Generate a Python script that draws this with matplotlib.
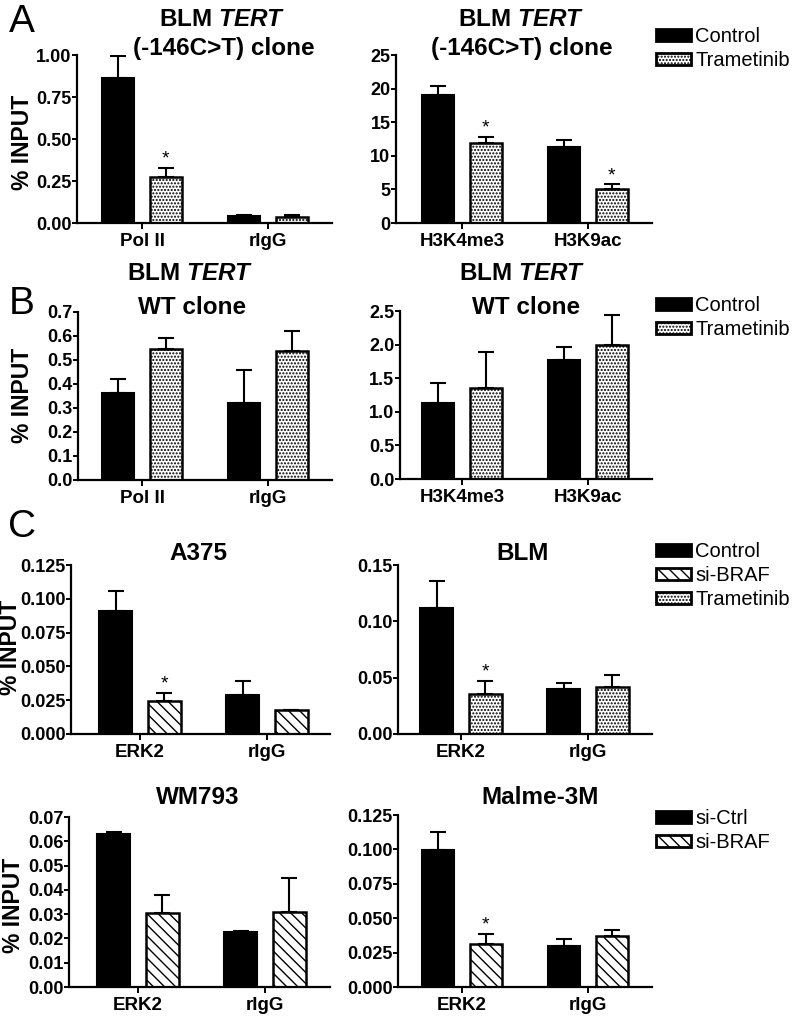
import numpy as np
import matplotlib
matplotlib.use("Agg")
import matplotlib.pyplot as plt
from matplotlib.patches import Patch
from matplotlib.ticker import FormatStrFormatter, MultipleLocator

plt.rcParams['font.family'] = ['Liberation Sans', 'DejaVu Sans']
plt.rcParams['mathtext.fontset'] = 'custom'
plt.rcParams['mathtext.it'] = 'Liberation Sans:italic:bold'
plt.rcParams['mathtext.rm'] = 'Liberation Sans:bold'
plt.rcParams['hatch.linewidth'] = 1.0

W, H = 796, 1017

# ---- data (mean, upper error) ----
cat_A_left = ["Pol II", "rIgG"]
cat_A_right = ["H3K4me3", "H3K9ac"]
cat_C = ["ERK2", "rIgG"]

a_left_ctrl = [0.865, 0.042]
a_left_ctrl_err = [0.13, 0.004]
a_left_tram = [0.276, 0.038]
a_left_tram_err = [0.053, 0.010]

a_right_ctrl = [19.0, 11.35]
a_right_ctrl_err = [1.4, 1.05]
a_right_tram = [11.9, 5.05]
a_right_tram_err = [0.95, 0.75]

b_left_ctrl = [0.361, 0.319]
b_left_ctrl_err = [0.059, 0.138]
b_left_tram = [0.546, 0.539]
b_left_tram_err = [0.044, 0.080]

b_right_ctrl = [1.13, 1.766]
b_right_ctrl_err = [0.30, 0.194]
b_right_tram = [1.35, 2.0]
b_right_tram_err = [0.54, 0.44]

a375_ctrl = [0.091, 0.0289]
a375_ctrl_err = [0.015, 0.0106]
a375_sibraf = [0.0244, 0.0175]
a375_sibraf_err = [0.0062, 0.0]

blm_ctrl = [0.112, 0.040]
blm_ctrl_err = [0.024, 0.0056]
blm_tram = [0.0352, 0.042]
blm_tram_err = [0.0121, 0.0104]

wm793_sictrl = [0.0631, 0.0225]
wm793_sictrl_err = [0.0007, 0.0004]
wm793_sibraf = [0.0306, 0.031]
wm793_sibraf_err = [0.0071, 0.0137]

malme_sictrl = [0.0997, 0.0298]
malme_sictrl_err = [0.0133, 0.0054]
malme_sibraf = [0.0315, 0.0374]
malme_sibraf_err = [0.0072, 0.0037]

DOTS = '.....'
DIAG = '\\\\\\'
TICK_FS = 13

fig = plt.figure(figsize=(W / 100, H / 100), dpi=100)


def px_axes(x0, x1, top, bottom):
    return fig.add_axes([x0 / W, 1 - bottom / H, (x1 - x0) / W, (bottom - top) / H])


def panel(rect, xlim, cats, s1, e1, s2, e2, hatch2, ylim, step, fmt, stars=()):
    ax = px_axes(*rect)
    x = np.arange(len(cats))
    bw, off = 0.26, 0.19
    ax.bar(x - off, s1, bw, color='black', edgecolor='black', linewidth=1.5,
           yerr=[np.zeros(len(s1)), e1], capsize=6,
           error_kw=dict(elinewidth=1.5, capthick=1.5, ecolor='black'), zorder=2)
    ax.bar(x + off, s2, bw, color='white', edgecolor='black', linewidth=1.8, hatch=hatch2,
           yerr=[np.zeros(len(s2)), e2], capsize=6,
           error_kw=dict(elinewidth=1.5, capthick=1.5, ecolor='black'), zorder=2)
    for i in stars:
        ax.annotate('*', (x[i] + off, s2[i] + e2[i]), xytext=(0, 0), textcoords='offset points',
                    ha='center', va='bottom', fontsize=14)
    ax.set_xlim(*xlim)
    ax.set_ylim(0, ylim)
    ax.yaxis.set_major_locator(MultipleLocator(step))
    ax.yaxis.set_major_formatter(FormatStrFormatter(fmt))
    ax.set_xticks(x)
    ax.set_xticklabels(cats, fontweight='bold', fontsize=TICK_FS + 0.5)
    for lab in ax.get_yticklabels():
        lab.set_fontweight('bold')
        lab.set_fontsize(TICK_FS)
    ax.spines['top'].set_visible(False)
    ax.spines['right'].set_visible(False)
    ax.spines['left'].set_linewidth(1.6)
    ax.spines['bottom'].set_linewidth(1.6)
    ax.tick_params(axis='y', length=3.5, width=1.4, pad=0.5)
    ax.tick_params(axis='x', length=4, width=1.4, pad=3)
    return ax


# row A
panel((77, 332, 55, 223), (-0.516, 1.508), cat_A_left, a_left_ctrl, a_left_ctrl_err,
      a_left_tram, a_left_tram_err, DOTS, 1.0, 0.25, '%.2f', stars=[0])
panel((396, 652, 55, 223), (-0.524, 1.508), cat_A_right, a_right_ctrl, a_right_ctrl_err,
      a_right_tram, a_right_tram_err, DOTS, 25, 5, '%d', stars=[0, 1])
# row B
panel((78, 332, 312, 480), (-0.508, 1.508), cat_A_left, b_left_ctrl, b_left_ctrl_err,
      b_left_tram, b_left_tram_err, DOTS, 0.7, 0.1, '%.1f')
panel((400, 652, 311, 479), (-0.492, 1.508), cat_A_right, b_right_ctrl, b_right_ctrl_err,
      b_right_tram, b_right_tram_err, DOTS, 2.5, 0.5, '%.1f')
# row C
panel((71, 330, 565, 734), (-0.543, 1.496), cat_C, a375_ctrl, a375_ctrl_err,
      a375_sibraf, a375_sibraf_err, DIAG, 0.125, 0.025, '%.3f', stars=[0])
panel((398, 652, 565, 734), (-0.496, 1.504), cat_C, blm_ctrl, blm_ctrl_err,
      blm_tram, blm_tram_err, DOTS, 0.15, 0.05, '%.2f', stars=[0])
# row D
panel((69, 330, 817, 987), (-0.543, 1.512), cat_C, wm793_sictrl, wm793_sictrl_err,
      wm793_sibraf, wm793_sibraf_err, DIAG, 0.07, 0.01, '%.2f')
panel((398, 652, 815, 987), (-0.508, 1.508), cat_C, malme_sictrl, malme_sictrl_err,
      malme_sibraf, malme_sibraf_err, DIAG, 0.125, 0.025, '%.3f', stars=[0])


def ftext(x, y, s, **kw):
    fig.text(x / W, 1 - y / H, s, ha='center', va='center', **kw)


tfs = 17.5
# titles
ftext(222, 19, r'BLM $\mathit{TERT}$', fontsize=tfs, fontweight='bold')
ftext(224, 48, '(-146C>T) clone', fontsize=tfs, fontweight='bold')
ftext(521, 19, r'BLM $\mathit{TERT}$', fontsize=tfs, fontweight='bold')
ftext(522, 48, '(-146C>T) clone', fontsize=tfs, fontweight='bold')
ftext(190, 273, r'BLM $\mathit{TERT}$', fontsize=tfs, fontweight='bold')
ftext(192, 307, 'WT clone', fontsize=tfs, fontweight='bold')
ftext(522, 273, r'BLM $\mathit{TERT}$', fontsize=tfs, fontweight='bold')
ftext(526, 307, 'WT clone', fontsize=tfs, fontweight='bold')
ftext(198, 553, 'A375', fontsize=tfs, fontweight='bold')
ftext(523, 553, 'BLM', fontsize=tfs, fontweight='bold')
ftext(198, 798, 'WM793', fontsize=tfs, fontweight='bold')
ftext(540, 798, 'Malme-3M', fontsize=tfs, fontweight='bold')

# panel letters
ftext(22, 22, 'A', fontsize=28)
ftext(22, 304, 'B', fontsize=28)
ftext(22, 527, 'C', fontsize=28)

# y labels
ftext(23, 142, '% INPUT', fontsize=16.5, fontweight='bold', rotation=90)
ftext(23, 395, '% INPUT', fontsize=16.5, fontweight='bold', rotation=90)
ftext(11, 647, '% INPUT', fontsize=16.5, fontweight='bold', rotation=90)
ftext(13, 905, '% INPUT', fontsize=16.5, fontweight='bold', rotation=90)


def leg(labels, hatches, y_top):
    handles = [Patch(facecolor='black' if h is None else 'white', edgecolor='black',
                     hatch=h, linewidth=2.0) for h in hatches]
    fig.legend(handles, labels, loc='upper left', bbox_to_anchor=(656 / W, 1 - y_top / H),
               frameon=False, fontsize=14.5, handlelength=1.75, handleheight=0.6,
               handletextpad=0.2, labelspacing=0.25, borderpad=0, borderaxespad=0)


leg(['Control', 'Trametinib'], [None, DOTS], 27)
leg(['Control', 'Trametinib'], [None, DOTS], 296)
leg(['Control', 'si-BRAF', 'Trametinib'], [None, DIAG, DOTS], 542)
leg(['si-Ctrl', 'si-BRAF'], [None, DIAG], 809)

fig.savefig('out.png', dpi=100)
